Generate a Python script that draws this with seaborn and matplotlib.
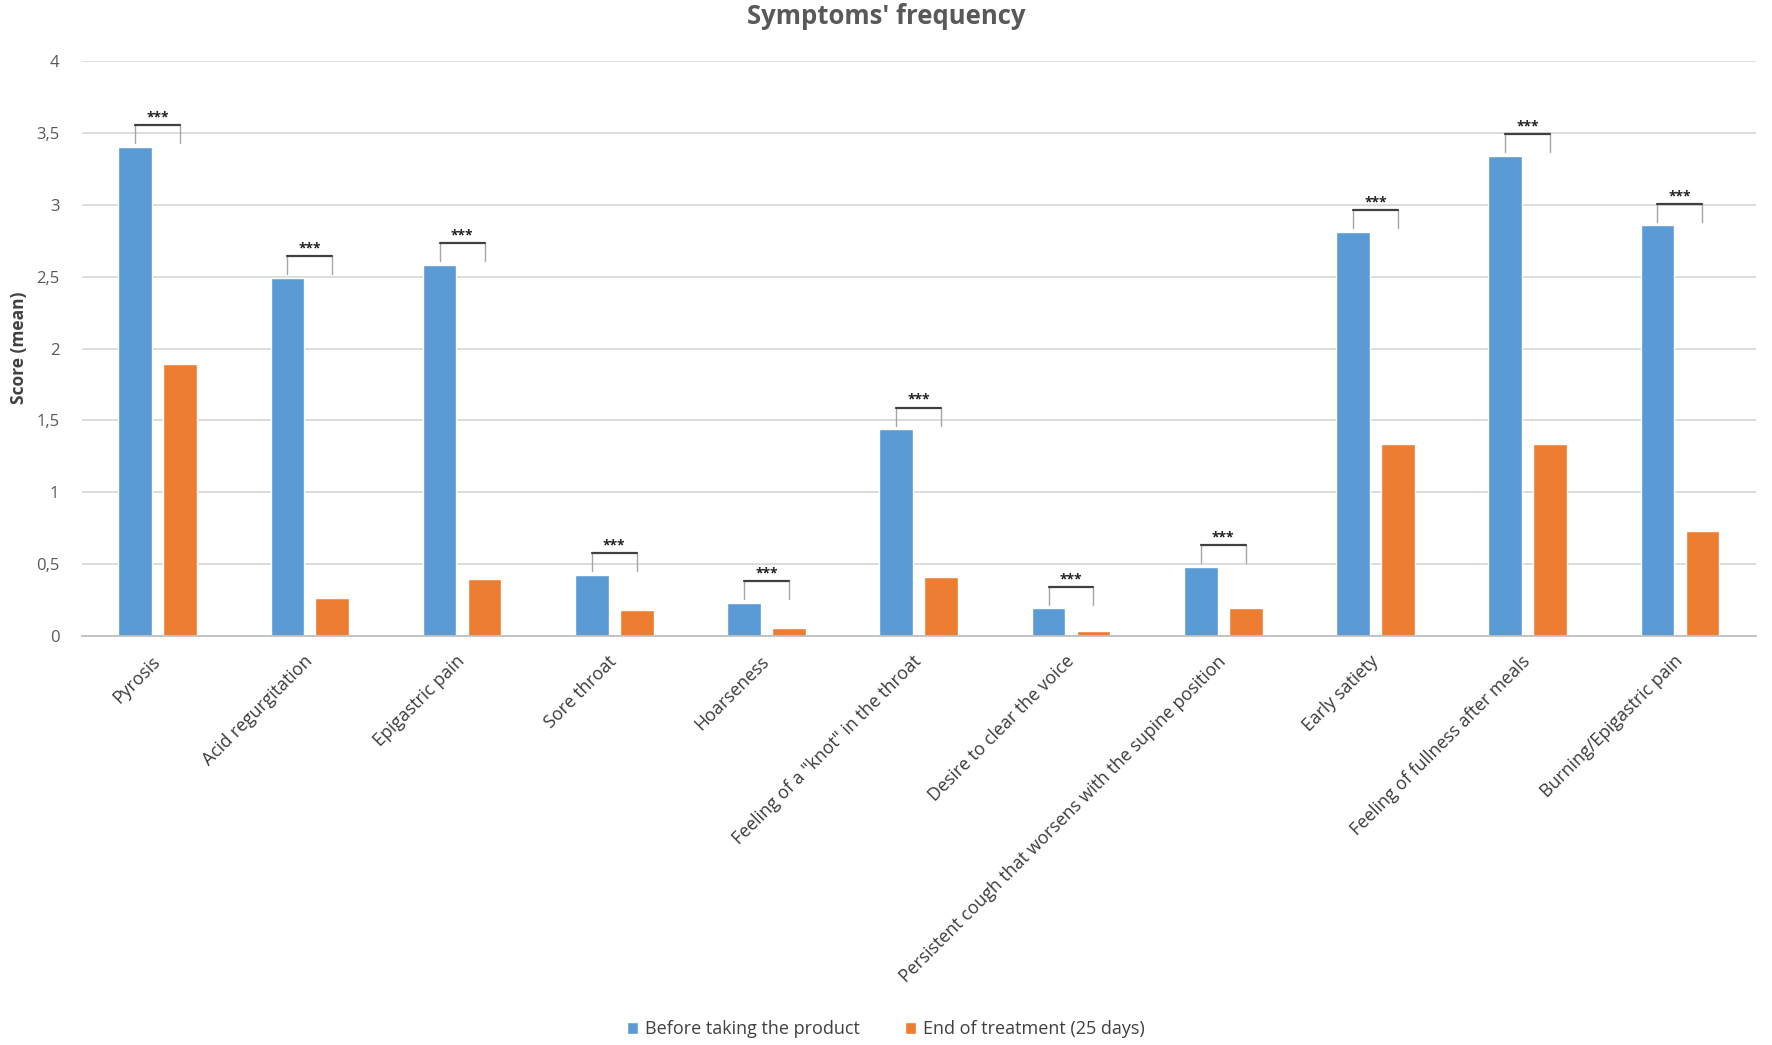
import matplotlib.pyplot as plt
import matplotlib.ticker as mticker
import pandas as pd
import seaborn as sns

# Mean scores
symptoms = [
    "Pyrosis",
    "Acid regurgitation",
    "Epigastric pain",
    "Sore throat",
    "Hoarseness",
    'Feeling of a "knot" in the throat',
    "Desire to clear the voice",
    "Persistent cough that worsens with the supine position",
    "Early satiety",
    "Feeling of fullness after meals",
    "Burning/Epigastric pain",
]
before = [3.40, 2.49, 2.58, 0.43, 0.235, 1.44, 0.195, 0.485, 2.81, 3.34, 2.855]
after = [1.89, 0.27, 0.40, 0.18, 0.06, 0.415, 0.04, 0.195, 1.34, 1.335, 0.735]
series = ["Before taking the product", "End of treatment (25 days)"]
significance = ["***"] * len(symptoms)

df = pd.DataFrame({
    "Symptom": symptoms * 2,
    "Score": before + after,
    "Period": [series[0]] * len(symptoms) + [series[1]] * len(symptoms),
})

sns.set_theme(style="white")
plt.rcParams["font.family"] = ["Open Sans", "DejaVu Sans"]

fig = plt.figure(figsize=(17.72, 10.45), dpi=100)
ax = fig.add_axes([0.046, 0.391, 0.945, 0.551])

sns.barplot(
    data=df, x="Symptom", y="Score", hue="Period",
    palette=["#5B9BD5", "#ED7D31"], saturation=1,
    width=0.59, gap=0.25, ax=ax,
)

ax.set_ylim(0, 4)
ax.set_xlim(-0.5, len(symptoms) - 0.5)
ax.yaxis.set_major_locator(mticker.MultipleLocator(0.5))
ax.yaxis.set_major_formatter(mticker.FuncFormatter(lambda v, p: f"{v:g}".replace(".", ",")))
ax.yaxis.grid(True, color="#D9D9D9", lw=1.3)
ax.set_axisbelow(True)
for s in ["top", "right", "left"]:
    ax.spines[s].set_visible(False)
ax.spines["bottom"].set_color("#BFBFBF")
ax.spines["bottom"].set_linewidth(1.3)

ax.tick_params(axis="y", length=0, pad=16, labelsize=12, labelcolor="#595959")
ax.tick_params(axis="x", length=0, pad=16, labelsize=12.8, labelcolor="#3A3A3A")
ax.set_xticks(range(len(symptoms)))
ax.set_xticklabels(symptoms, rotation=45, ha="right", va="center", rotation_mode="anchor")

ax.set_xlabel("")
ax.set_ylabel("")
fig.text(0.011, 0.667, "Score (mean)", rotation=90, ha="center", va="center",
         fontsize=12.5, weight="bold", color="#404040")

# significance brackets between the two bars of each symptom
for i, star in enumerate(significance):
    b = ax.containers[0][i]
    o = ax.containers[1][i]
    x1 = b.get_x() + b.get_width() / 2
    x2 = o.get_x() + o.get_width() / 2
    top = before[i] + 0.15
    ax.plot([x1, x1], [top, top - 0.125], color="#A6A6A6", lw=1)
    ax.plot([x2, x2], [top, top - 0.125], color="#A6A6A6", lw=1)
    ax.plot([x1, x2], [top, top], color="#404040", lw=1.6)
    ax.text((x1 + x2) / 2, top + 0.005, star, ha="center", va="bottom",
            fontsize=10, weight="bold", color="#222222")

handles, labels = ax.get_legend_handles_labels()
ax.get_legend().remove()
fig.legend(handles, labels, loc="center", bbox_to_anchor=(0.5, 0.015), ncol=2,
           frameon=False, handlelength=0.6, handleheight=0.6, handletextpad=0.4,
           columnspacing=2.5, fontsize=13, labelcolor="#404040")

fig.text(0.5, 0.984, "Symptoms' frequency", ha="center", va="center",
         fontsize=18.5, weight="bold", color="#595959")

plt.savefig("out.png", dpi=100)
